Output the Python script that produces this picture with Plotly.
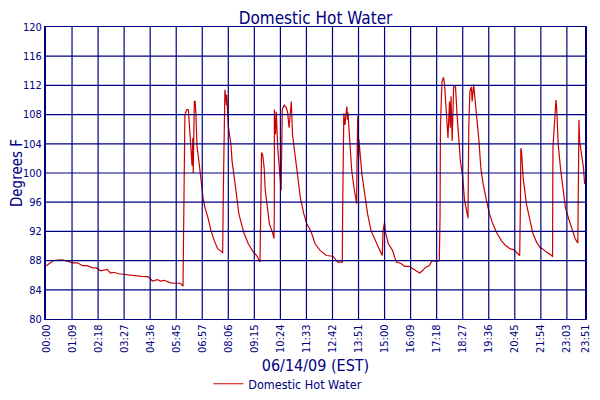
import plotly.graph_objects as go

# minutes (axis position) and temperature (deg F)
minutes = [0, 20, 41, 52, 71, 83, 97, 109, 123, 133, 145, 153, 162, 171, 179, 192, 207, 226, 239, 252,
           270, 282, 295, 303, 313, 321, 330, 342, 356, 363,
           364, 365, 368, 373, 377, 379, 383, 387, 389, 390, 393, 395, 397, 400, 404, 407, 411, 416, 421, 429,
           437, 446, 455, 466, 468,
           470, 474, 476, 478, 479, 483, 490, 493, 500, 505, 511, 518, 525, 536, 549, 558, 567,
           569, 571, 574, 578, 581, 586, 592, 601, 604,
           605, 605, 608, 610, 614, 618, 623, 626, 631, 636, 640, 644, 649, 650, 653, 662, 667, 674, 683, 691,
           696, 704, 713, 726, 743, 760, 773, 785,
           786, 789, 792, 794, 797, 799, 800, 806, 810, 817, 822, 823,
           824, 826, 828, 829, 837, 843, 852, 861, 872, 881, 891,
           893, 897, 899, 907, 918, 928, 941, 950, 963, 972, 982, 990, 997, 1006, 1015, 1023, 1036, 1042,
           1044, 1045, 1049, 1053, 1056, 1060, 1065, 1069, 1071, 1073, 1076, 1080, 1085, 1089, 1094, 1098,
           1104, 1109, 1116, 1118,
           1120, 1123, 1127, 1129, 1133, 1137, 1141, 1143, 1147, 1152, 1158, 1167, 1175, 1184, 1195, 1207,
           1217, 1230, 1239, 1251, 1255,
           1257, 1258, 1260, 1264, 1273, 1282, 1290, 1300, 1309, 1316, 1325, 1340, 1342,
           1343, 1349, 1351, 1353, 1357, 1363, 1370, 1376, 1385, 1394, 1402, 1409,
           1411, 1412, 1414, 1415, 1424, 1427]
temps = [87.25, 88.0, 88.1, 88.0, 87.7, 87.7, 87.3, 87.3, 87.0, 87.0, 86.6, 86.7, 86.8, 86.3, 86.4, 86.2, 86.1, 86.0, 85.9, 85.85,
         85.8, 85.2, 85.4, 85.2, 85.3, 85.1, 84.95, 84.9, 84.9, 84.5,
         90.3, 101.9, 108.0, 108.7, 108.7, 107.3, 103.4, 101.0, 104.8, 100.0, 109.8, 109.8, 108.4, 103.7, 102.1, 100.3, 98.9, 96.6, 95.3, 93.9,
         92.1, 90.7, 89.6, 89.2, 89.0,
         98.2, 111.4, 110.5, 109.3, 110.7, 106.4, 103.9, 101.6, 98.9, 96.6, 94.4, 93.0, 91.7, 90.3, 89.2, 88.7, 87.8,
         95.3, 102.8, 102.5, 100.7, 97.6, 95.3, 93.0, 91.7, 91.0,
         95.0, 108.7, 105.3, 108.4, 103.4, 100.7, 97.6, 108.7, 109.3, 109.0, 108.4, 106.2, 109.8, 109.8, 105.3, 101.6, 98.9, 96.6, 94.4, 93.0,
         92.6, 91.7, 90.3, 89.4, 88.7, 88.6, 87.8, 87.8,
         95.3, 108.2, 106.6, 108.2, 109.1, 107.3, 108.3, 103.4, 100.3, 97.6, 96.2, 95.8,
         101.6, 107.8, 101.8, 104.6, 99.8, 97.6, 94.4, 92.1, 90.7, 89.8, 88.7,
         92.1, 93.2, 92.0, 90.3, 89.4, 87.8, 87.6, 87.2, 87.2, 86.9, 86.6, 86.3, 86.6, 87.1, 87.3, 88.0, 87.9, 88.0,
         94.1, 106.4, 112.5, 113.1, 112.1, 108.4, 104.8, 109.8, 106.2, 110.5, 104.4, 111.8, 111.8, 108.0, 103.9, 101.6,
         99.4, 96.2, 94.4, 93.8,
         106.2, 111.2, 111.8, 109.8, 112.1, 109.8, 108.4, 107.1, 104.4, 100.7, 98.5, 96.2, 94.4, 93.0, 91.7, 90.7,
         90.1, 89.6, 89.5, 88.9, 88.7,
         96.2, 103.4, 102.9, 99.4, 95.7, 93.5, 91.7, 90.5, 89.8, 89.6, 89.2, 88.7, 88.5,
         103.4, 109.6, 110.0, 108.9, 103.9, 100.7, 98.0, 95.3, 93.7, 92.1, 91.0, 90.4,
         100.0, 107.3, 104.0, 103.9, 100.7, 98.5]

tick_labels = ["00:00", "01:09", "02:18", "03:27", "04:36", "05:45", "06:57", "08:06", "09:15", "10:24",
               "11:33", "12:42", "13:51", "15:00", "16:09", "17:18", "18:27", "19:36", "20:45", "21:54",
               "23:03", "23:51"]
tick_pos = [0, 69, 138, 207, 276, 345, 414, 483, 552, 621, 690, 759, 828, 897, 966, 1035, 1104, 1173,
            1242, 1311, 1380, 1428]
y_ticks = [80, 84, 88, 92, 96, 100, 104, 108, 112, 116, 120]

NAVY = "#000080"
RED = "#CC0000"
FONT = "DejaVu Sans Condensed, DejaVu Sans, Verdana, sans-serif"

fig = go.Figure()
fig.add_trace(go.Scatter(x=minutes, y=temps, mode="lines", name="Domestic Hot Water",
                         line=dict(color=RED, width=1.2)))

# gridlines drawn above the trace, as in the reference
shapes = []
for t in tick_pos[1:-1]:
    shapes.append(dict(type="line", xref="x", yref="paper", x0=t, x1=t, y0=0, y1=1,
                       line=dict(color=NAVY, width=1.2), layer="above"))
for v in y_ticks[1:-1]:
    shapes.append(dict(type="line", xref="paper", yref="y", x0=0, x1=1, y0=v, y1=v,
                       line=dict(color=NAVY, width=1.2), layer="above"))

# page body adds an 8px margin, so the figure is 584x384 to fill the 600x400 window
fig.update_layout(
    width=584, height=384,
    margin=dict(l=38, r=7, t=19, b=73, autoexpand=False),
    paper_bgcolor="white", plot_bgcolor="white",
    font=dict(family=FONT, color=NAVY, size=11),
    title=dict(text="Domestic Hot Water", x=0.5, xref="paper", xanchor="center",
               y=0.9727, yref="container", yanchor="middle", font=dict(size=17, color=NAVY, family=FONT)),
    shapes=shapes,
    showlegend=True,
    legend=dict(orientation="h", x=0.301, xanchor="left", y=-0.223, yanchor="middle",
                font=dict(size=12.5, color=NAVY, family=FONT), bgcolor="rgba(0,0,0,0)"),
)
fig.update_xaxes(range=[0, 1428], tickmode="array", tickvals=tick_pos, ticktext=tick_labels,
                 tickangle=-90, showgrid=False, zeroline=False, showline=True, linecolor=NAVY,
                 linewidth=1.2, mirror=True, ticks="", tickfont=dict(size=11, color=NAVY),
                 automargin=False, ticklabeloverflow="allow",
                 title=dict(text="06/14/09 (EST)", font=dict(size=16, color=NAVY), standoff=7))
fig.update_yaxes(range=[80, 120], tickmode="array", tickvals=y_ticks, showgrid=False, zeroline=False,
                 showline=True, linecolor=NAVY, linewidth=2, mirror=True, ticks="",
                 tickfont=dict(size=11, color=NAVY), automargin=False,
                 title=dict(text="Degrees F", font=dict(size=15, color=NAVY), standoff=2))

fig.write_html("out.html")
